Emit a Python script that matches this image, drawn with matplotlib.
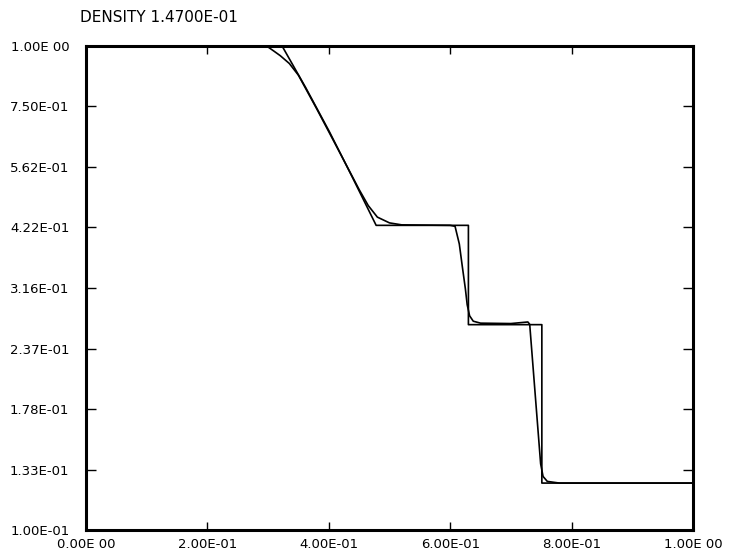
import numpy as np
import matplotlib
matplotlib.use('Agg')
import matplotlib.pyplot as plt

# numerical solution
x_num = [0.0, 0.29, 0.30, 0.31, 0.32, 0.335, 0.35, 0.38, 0.42, 0.45, 0.465, 0.48, 0.50, 0.52,
         0.60, 0.608, 0.615, 0.62, 0.625, 0.628, 0.632, 0.638, 0.65, 0.70, 0.728, 0.731, 0.749,
         0.753, 0.76, 0.78, 1.0]
rho_num = [1.0, 1.0, 0.995, 0.975, 0.955, 0.92, 0.87, 0.742, 0.596, 0.505, 0.468, 0.443, 0.431,
           0.427, 0.426, 0.424, 0.39, 0.35, 0.315, 0.292, 0.277, 0.27, 0.2675, 0.267, 0.269,
           0.266, 0.137, 0.129, 0.126, 0.125, 0.125]

# exact solution
x_ex = [0.0, 0.323, 0.362, 0.401, 0.439, 0.478, 0.630, 0.630, 0.751, 0.751, 1.0]
rho_ex = [1.0, 1.0, 0.82, 0.665, 0.535, 0.426, 0.426, 0.2656, 0.2656, 0.125, 0.125]

yticks = [1.0, 0.75, 0.562, 0.422, 0.316, 0.237, 0.178, 0.133, 0.1]
ylabels = ['1.00E 00', '7.50E-01', '5.62E-01', '4.22E-01', '3.16E-01', '2.37E-01',
           '1.78E-01', '1.33E-01', '1.00E-01']
xticks = [0.0, 0.2, 0.4, 0.6, 0.8, 1.0]
xlabels = ['0.00E 00', '2.00E-01', '4.00E-01', '6.00E-01', '8.00E-01', '1.00E 00']

fig = plt.figure(figsize=(7.32, 5.56), dpi=100)
ax = fig.add_axes([0.1175, 0.0468, 0.8292, 0.8705])

ax.plot(x_ex, rho_ex, color='black', lw=1.2)
ax.plot(x_num, rho_num, color='black', lw=1.2)

ax.set_yscale('log')
ax.set_xlim(0, 1)
ax.set_ylim(0.1, 1.0)
ax.minorticks_off()
ax.set_yticks(yticks)
ax.set_yticklabels(ylabels)
ax.set_xticks(xticks)
ax.set_xticklabels(xlabels)
ax.tick_params(direction='in', top=True, right=True, labelsize=9.5, width=1)
ax.tick_params(axis='y', length=7, pad=12)
ax.tick_params(axis='x', length=6, pad=6)
for s in ax.spines.values():
    s.set_linewidth(2.2)

fig.text(80 / 732, 1 - 17 / 556, 'DENSITY 1.4700E-01', fontsize=11, va='center', ha='left')

fig.savefig('out.png', dpi=100)
